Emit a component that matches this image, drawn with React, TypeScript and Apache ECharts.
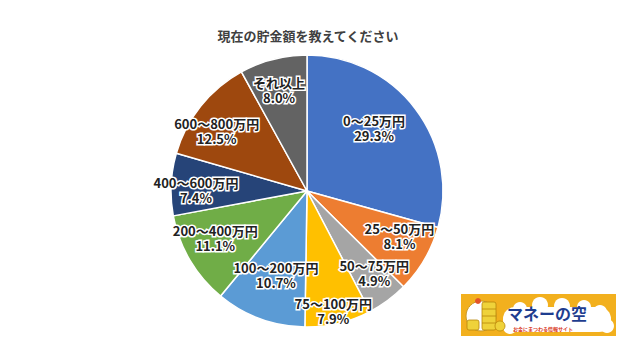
import React, { useEffect, useRef } from "react";
import * as echarts from "echarts";

const titleText = "現在の貯金額を教えてください";
const categories = [
  "0～25万円",
  "25～50万円",
  "50～75万円",
  "75～100万円",
  "100～200万円",
  "200～400万円",
  "400～600万円",
  "600～800万円",
  "それ以上",
];
const shares = [29.3, 8.1, 4.9, 7.9, 10.7, 11.1, 7.4, 12.5, 8.0];
const sliceColors = [
  "#4472C4",
  "#ED7D31",
  "#A5A5A5",
  "#FFC000",
  "#5B9BD5",
  "#70AD47",
  "#264478",
  "#9E480E",
  "#636363",
];

const logoTitle = "マネーの空";
const logoSub = "お金にまつわる情報サイト";

export default function App() {
  const ref = useRef<HTMLDivElement>(null);
  useEffect(() => {
    if (!ref.current) return;
    const chart = echarts.init(ref.current, null, { renderer: "svg" });
    const CX = 307;
    const CY = 191;
    const R = 136;
    // Excel "best fit" label placement: per label, inner radius of a transparent ring
    // (label sits mid-ring) and a small start-angle tweak.
    const placement = [
      { inner: 42, start: 96 },
      { inner: 64, start: 94 },
      { inner: 70, start: 93 },
      { inner: 104, start: 89 },
      { inner: 38, start: 90 },
      { inner: 64, start: 86.5 },
      { inner: 80, start: 92.5 },
      { inner: 75, start: 95 },
      { inner: 68, start: 91 },
    ];
    const labelStyle = {
      show: true,
      position: "inside",
      fontFamily: "'Noto Sans CJK JP', 'Noto Sans', sans-serif",
      fontSize: 13,
      fontWeight: "bold",
      lineHeight: 15,
      color: "#222222",
      textBorderColor: "#ffffff",
      textBorderWidth: 3,
      formatter: (p: any) => `${p.name}\n${Number(p.value).toFixed(1)}%`,
    };
    const labelSeries = placement.map((pl, ri) => ({
      type: "pie",
      silent: true,
      center: [CX, CY],
      radius: [pl.inner, R],
      startAngle: pl.start,
      clockwise: true,
      avoidLabelOverlap: false,
      labelLayout: { hideOverlap: false },
      itemStyle: { color: "rgba(0,0,0,0)", borderWidth: 0 },
      emphasis: { disabled: true },
      labelLine: { show: false },
      label: labelStyle,
      z: 5,
      data: categories.map((c, i) => ({
        name: c,
        value: shares[i],
        label: { show: i === ri },
      })),
    }));
    chart.setOption({
      animation: false,
      backgroundColor: "#ffffff",
      series: [
        {
          type: "pie",
          center: [CX, CY],
          radius: [0, R],
          startAngle: 90,
          clockwise: true,
          silent: true,
          label: { show: false },
          labelLine: { show: false },
          itemStyle: { borderColor: "#ffffff", borderWidth: 1.5 },
          data: categories.map((c, i) => ({
            name: c,
            value: shares[i],
            itemStyle: { color: sliceColors[i] },
          })),
        },
        ...labelSeries,
      ],
      graphic: [
        {
          type: "text",
          x: 308,
          y: 35,
          style: {
            text: titleText,
            fill: "#404040",
            fontFamily: "'Noto Sans CJK JP', sans-serif",
            fontSize: 13,
            fontWeight: "bold",
            align: "center",
            verticalAlign: "middle",
          },
        },
        {
          type: "group",
          children: [
            { type: "rect", shape: { x: 461, y: 294, width: 155, height: 42 }, style: { fill: "#F2B01E" } },
            { type: "rect", shape: { x: 503, y: 307, width: 108, height: 25, r: 12 }, style: { fill: "#ffffff" } },
            { type: "circle", shape: { cx: 520, cy: 309, r: 7 }, style: { fill: "#ffffff" } },
            { type: "circle", shape: { cx: 540, cy: 305, r: 8 }, style: { fill: "#ffffff" } },
            { type: "circle", shape: { cx: 562, cy: 306, r: 8 }, style: { fill: "#ffffff" } },
            { type: "circle", shape: { cx: 584, cy: 307, r: 7 }, style: { fill: "#ffffff" } },
            { type: "circle", shape: { cx: 600, cy: 312, r: 7 }, style: { fill: "#ffffff" } },
            { type: "circle", shape: { cx: 510, cy: 327, r: 7 }, style: { fill: "#ffffff" } },
            { type: "circle", shape: { cx: 607, cy: 326, r: 7 }, style: { fill: "#ffffff" } },
            // mascot
            { type: "ellipse", shape: { cx: 481, cy: 316, rx: 15, ry: 15 }, style: { fill: "#ffffff", stroke: "#C89A2A", lineWidth: 1 } },
            { type: "circle", shape: { cx: 478, cy: 301, r: 3 }, style: { fill: "#E3542A" } },
            { type: "rect", shape: { x: 482, y: 302, width: 14, height: 28, r: 2 }, style: { fill: "#EFD23A", stroke: "#B8860B", lineWidth: 0.8 } },
            { type: "line", shape: { x1: 482, y1: 309, x2: 496, y2: 309 }, style: { stroke: "#B8860B", lineWidth: 0.8 } },
            { type: "line", shape: { x1: 482, y1: 316, x2: 496, y2: 316 }, style: { stroke: "#B8860B", lineWidth: 0.8 } },
            { type: "line", shape: { x1: 482, y1: 323, x2: 496, y2: 323 }, style: { stroke: "#B8860B", lineWidth: 0.8 } },
            { type: "rect", shape: { x: 467, y: 320, width: 12, height: 10, r: 2 }, style: { fill: "#EFD23A", stroke: "#B8860B", lineWidth: 0.8 } },
            { type: "circle", shape: { cx: 500, cy: 326, r: 5 }, style: { fill: "#EFD23A", stroke: "#B8860B", lineWidth: 0.8 } },
            {
              type: "text",
              x: 547,
              y: 313,
              style: {
                text: logoTitle,
                fill: "#1E3D8F",
                fontFamily: "'Noto Sans CJK JP', sans-serif",
                fontSize: 16,
                fontWeight: "bold",
                align: "center",
                verticalAlign: "middle",
              },
            },
            {
              type: "text",
              x: 543,
              y: 328.5,
              style: {
                text: logoSub,
                fill: "#D9381E",
                fontFamily: "'Noto Sans CJK JP', sans-serif",
                fontSize: 5,
                fontWeight: "bold",
                align: "center",
                verticalAlign: "middle",
              },
            },
          ],
        },
      ],
    });
    return () => chart.dispose();
  }, []);
  return (
    <div
      ref={ref}
      style={{ position: "fixed", left: 0, top: 0, width: 640, height: 359, background: "#fff" }}
    />
  );
}
